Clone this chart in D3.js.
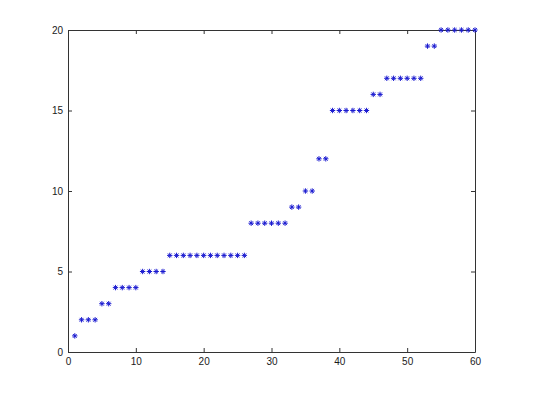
<!DOCTYPE html>
<html lang="en">
<head>
<meta charset="utf-8">
<title>Scatter</title>
<script src="https://d3js.org/d3.v7.min.js"></script>
<style>html,body{margin:0;padding:0;background:#fff;}</style>
</head>
<body>
<script>
// step counts for each level
var levels = [1, 2, 3, 4, 5, 6, 8, 9, 10, 12, 15, 16, 17, 19, 20];
var counts = [1, 3, 2, 4, 4, 12, 6, 2, 2, 2, 6, 2, 6, 2, 6];
var xTicks = [0, 10, 20, 30, 40, 50, 60];
var yTicks = [0, 5, 10, 15, 20];

var yValues = [];
levels.forEach(function(v, i){
  for (var k = 0; k < counts[i]; k++) yValues.push(v);
});
var data = yValues.map(function(v, i){ return {X: i + 1, Y: v}; });

var W = 540, H = 406;
var pLeft = 68, pRight = 475, pTop = 30, pBottom = 352;

var svg = d3.select("body").append("svg")
  .attr("width", W).attr("height", H);

var x = d3.scaleLinear().domain([0, 60]).range([pLeft, pRight]);
var y = d3.scaleLinear().domain([0, 20]).range([pBottom, pTop]);

var font = "Liberation Sans, Arial, sans-serif";

// box axes with inward ticks
var gx = svg.append("g").attr("transform", "translate(0," + pBottom + ")")
  .call(d3.axisBottom(x).tickValues(xTicks).tickSizeInner(-4).tickSizeOuter(0).tickPadding(6));
var gxt = svg.append("g").attr("transform", "translate(0," + pTop + ")")
  .call(d3.axisTop(x).tickValues(xTicks).tickSizeInner(-4).tickSizeOuter(0).tickFormat(""));
var gy = svg.append("g").attr("transform", "translate(" + pLeft + ",0)")
  .call(d3.axisLeft(y).tickValues(yTicks).tickSizeInner(-4).tickSizeOuter(0).tickPadding(5));
var gyr = svg.append("g").attr("transform", "translate(" + pRight + ",0)")
  .call(d3.axisRight(y).tickValues(yTicks).tickSizeInner(-4).tickSizeOuter(0).tickFormat(""));

[gx, gxt, gy, gyr].forEach(function(g){
  g.selectAll("path").attr("stroke", "#333").attr("stroke-width", 1);
  g.selectAll("line").attr("stroke", "#333");
  g.selectAll("text").attr("fill", "#1a1a1a").style("font-family", font).style("font-size", "10px");
});

// asterisk markers
var r = 2.7;
var pts = svg.append("g").selectAll("g").data(data).enter().append("g")
  .attr("transform", function(d){ return "translate(" + x(d.X) + "," + y(d.Y) + ")"; });
var segs = [[-r, 0, r, 0], [0, -r, 0, r], [-r*0.7, -r*0.7, r*0.7, r*0.7], [-r*0.7, r*0.7, r*0.7, -r*0.7]];
segs.forEach(function(s){
  pts.append("line")
    .attr("x1", s[0]).attr("y1", s[1]).attr("x2", s[2]).attr("y2", s[3])
    .attr("stroke", "#1a1ad0").attr("stroke-width", 1);
});
</script>
</body>
</html>
